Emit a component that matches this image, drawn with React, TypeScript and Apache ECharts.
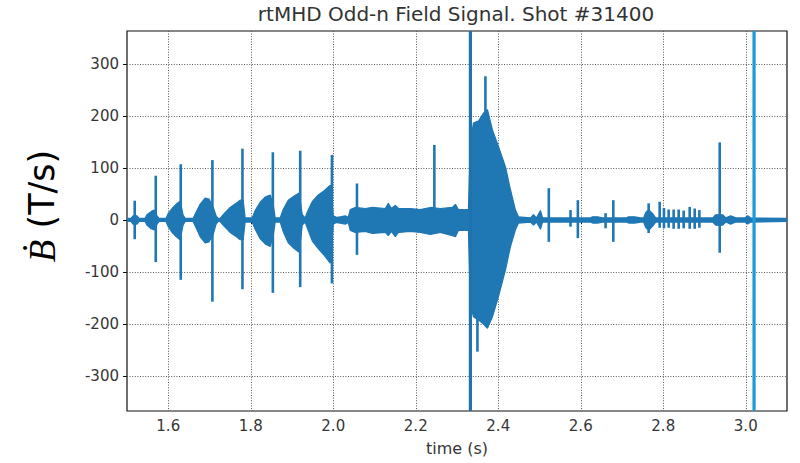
import React, { useEffect, useRef } from "react";
import * as echarts from "echarts";

// Axis ranges and tick labels
const xMin = 1.5;
const xMax = 3.1;
const yMin = -367;
const yMax = 363;
const xTicks = [1.6, 1.8, 2.0, 2.2, 2.4, 2.6, 2.8, 3.0];
const yTicks = [-300, -200, -100, 0, 100, 200, 300];

// Envelope of the oscillating signal (time, upper, lower)
const envT = [
  1.5, 1.5097, 1.5146, 1.5243, 1.5291, 1.5437, 1.5485, 1.5583, 1.5655, 1.5728, 1.5777,
  1.5947, 1.5995, 1.6092, 1.6189, 1.6286, 1.6359, 1.6408, 1.6602, 1.6675, 1.6772, 1.6893,
  1.699, 1.7087, 1.716, 1.7209, 1.7257, 1.7354, 1.75, 1.7646, 1.7743, 1.7816, 1.7864,
  1.8034, 1.8107, 1.8228, 1.835, 1.8471, 1.8544, 1.8592, 1.8714, 1.8786, 1.8908, 1.9053,
  1.9175, 1.9248, 1.932, 1.9369, 1.949, 1.9636, 1.9782, 1.9927, 2.0, 2.0073, 2.017,
  2.0291, 2.0364, 2.0413, 2.0534, 2.0777, 2.0947, 2.1262, 2.1335, 2.1408, 2.1505, 2.1578,
  2.1869, 2.2112, 2.2354, 2.2597, 2.2888, 2.2961, 2.3034, 2.3277, 2.3325, 2.3398, 2.3519,
  2.3641, 2.3738, 2.3859, 2.4005, 2.4175, 2.4296, 2.4417, 2.449, 2.4782, 2.4854, 2.4927,
  2.5024, 2.5073, 2.5388, 2.6238, 2.6286, 2.6408, 2.6529, 2.6602, 2.7112, 2.716, 2.7306,
  2.7451, 2.7524, 2.7573, 2.7646, 2.7743, 2.7816, 2.9199, 2.9272, 2.9442, 2.9515, 2.9636,
  2.9757, 2.9976, 3.0049, 3.0121, 3.1,
];
const envHi = [
  3, 3, 8, 8, 3, 3, 10, 16, 19, 8, 3,
  3, 12, 22, 30, 36, 10, 3, 3, 15, 30, 42,
  40, 25, 8, 3, 3, 12, 24, 32, 38, 38, 4,
  4, 18, 34, 44, 48, 30, 4, 4, 20, 38, 46,
  52, 10, 4, 15, 35, 48, 56, 67, 8, 5, 6,
  8, 5, 20, 24, 22, 24, 22, 32, 22, 28, 22,
  22, 20, 24, 22, 24, 30, 20, 20, 150, 186, 190,
  205, 212, 173, 141, 102, 58, 19, 6, 4, 10, 4,
  18, 4, 4, 4, 6, 6, 4, 4, 4, 6, 6,
  4, 4, 14, 20, 12, 4, 4, 10, 10, 4, 8,
  4, 4, 8, 4, 3,
];
const envLo = [
  -3, -3, -8, -8, -3, -3, -10, -17, -19, -8, -3,
  -3, -12, -24, -32, -38, -10, -3, -3, -15, -32, -44,
  -42, -28, -8, -3, -3, -12, -24, -32, -38, -38, -4,
  -4, -18, -36, -46, -51, -30, -4, -4, -22, -44, -55,
  -62, -10, -4, -15, -40, -55, -68, -83, -8, -5, -6,
  -8, -5, -20, -24, -22, -26, -24, -30, -22, -32, -24,
  -22, -24, -28, -24, -30, -32, -20, -20, -160, -186, -192,
  -200, -208, -186, -147, -96, -51, -19, -6, -4, -10, -4,
  -18, -4, -4, -4, -6, -6, -4, -4, -4, -6, -6,
  -4, -4, -14, -20, -12, -4, -4, -10, -10, -4, -8,
  -4, -4, -8, -4, -3,
];

// Isolated spikes (time, top, bottom)
const spikeT = [
  1.5187, 1.5697, 1.6303, 1.707, 1.7799, 1.8536, 1.9199, 1.9968, 2.0575, 2.2451,
  2.3495, 2.3689, 2.5226, 2.5752, 2.593, 2.6602, 2.6789, 2.7646, 2.7913, 2.8017,
  2.8131, 2.8252, 2.8374, 2.8495, 2.8641, 2.8762, 2.8876, 2.9369,
];
const spikeHi = [
  37, 85, 107, 115, 137, 130, 133, 125, 70, 144,
  190, 276, 61, 19, 38, 13, 38, 32, 35, 23,
  20, 20, 20, 18, 25, 22, 19, 149,
];
const spikeLo = [
  -37, -81, -115, -157, -133, -140, -129, -122, -67, -20,
  -253, -200, -42, -13, -35, -16, -42, -25, -15, -16,
  -15, -17, -17, -16, -17, -17, -15, -63,
];

// Saturated full-scale lines
const bigT = [2.3325, 3.0201];
const bigAmp = [1000, 1000];
const bigColor = ["#1f72ad", "#1c9ad8"];

const BLUE = "#1f77b4";

export default function App() {
  const ref = useRef<HTMLDivElement>(null);

  useEffect(() => {
    if (!ref.current) return;
    const chart = echarts.init(ref.current, null, { renderer: "svg" });

    const upper = envT.map((t, i) => [t, envHi[i]]);
    const lower = envT.map((t, i) => [t, envLo[i]]);
    const spikes = spikeT.map((t, i) => [t, spikeHi[i], spikeLo[i]]);
    const bigs = bigT.map((t, i) => [t, bigAmp[i], -bigAmp[i], i]);

    const tickFont = {
      color: "#363636",
      fontSize: 15,
      fontFamily: "DejaVu Sans",
    };
    const gridLine = { color: "#5a5a5a", type: [1, 1.6], width: 1 };

    chart.setOption({
      animation: false,
      grid: {
        left: 127,
        right: 13,
        top: 31,
        bottom: 52,
        show: true,
        borderColor: "#111",
        borderWidth: 1.2,
        backgroundColor: "#fff",
      },
      xAxis: {
        type: "value",
        min: xMin,
        max: xMax,
        splitNumber: 8,
        axisLine: { show: false },
        axisTick: {
          show: true,
          inside: false,
          length: 4,
          lineStyle: { color: "#111" },
          customValues: xTicks,
        },
        axisLabel: {
          ...tickFont,
          margin: 7,
          customValues: xTicks,
          formatter: (v: number) => v.toFixed(1),
        },
        splitLine: { show: true, lineStyle: gridLine },
      },
      yAxis: {
        type: "value",
        min: yMin,
        max: yMax,
        splitNumber: 7,
        axisLine: { show: false },
        axisTick: {
          show: true,
          inside: false,
          length: 4,
          lineStyle: { color: "#111" },
          customValues: yTicks,
        },
        axisLabel: {
          ...tickFont,
          margin: 8,
          customValues: yTicks,
          formatter: (v: number) => String(v),
        },
        splitLine: { show: true, lineStyle: gridLine },
      },
      graphic: [
        {
          type: "text",
          x: 456,
          y: 14,
          style: {
            text: "rtMHD Odd-n Field Signal. Shot #31400",
            fill: "#333",
            font: '20px "DejaVu Sans"',
            align: "center",
            verticalAlign: "middle",
          },
        },
        {
          type: "text",
          x: 457,
          y: 448,
          style: {
            text: "time (s)",
            fill: "#363636",
            font: '16px "DejaVu Sans"',
            align: "center",
            verticalAlign: "middle",
          },
        },
        {
          type: "text",
          x: 42,
          y: 206,
          rotation: Math.PI / 2,
          style: {
            text: "{b|Ḃ} (T/s)",
            fill: "#000",
            fontSize: 35,
            fontFamily: '"DejaVu Sans", sans-serif',
            align: "center",
            verticalAlign: "middle",
            rich: {
              b: {
                fontStyle: "italic",
                fontSize: 37,
                fontFamily: '"Liberation Serif", "DejaVu Serif", serif',
                fill: "#000",
              },
            },
          },
        },
      ],
      series: [
        {
          type: "line",
          data: upper,
          symbol: "none",
          lineStyle: { color: BLUE, width: 1.2 },
          areaStyle: { color: BLUE, opacity: 1, origin: 0 },
          silent: true,
          z: 2,
        },
        {
          type: "line",
          data: lower,
          symbol: "none",
          lineStyle: { color: BLUE, width: 1.2 },
          areaStyle: { color: BLUE, opacity: 1, origin: 0 },
          silent: true,
          z: 2,
        },
        {
          type: "custom",
          data: spikes,
          clip: true,
          silent: true,
          z: 3,
          renderItem: (params: any, api: any) => {
            const p1 = api.coord([api.value(0), api.value(1)]);
            const p2 = api.coord([api.value(0), api.value(2)]);
            return {
              type: "line",
              shape: { x1: p1[0], y1: p1[1], x2: p2[0], y2: p2[1] },
              style: { stroke: BLUE, lineWidth: 2.6 },
            };
          },
        },
        {
          type: "custom",
          data: bigs,
          clip: true,
          silent: true,
          z: 4,
          renderItem: (params: any, api: any) => {
            const p1 = api.coord([api.value(0), api.value(1)]);
            const p2 = api.coord([api.value(0), api.value(2)]);
            const idx = api.value(3);
            return {
              type: "line",
              shape: { x1: p1[0], y1: p1[1], x2: p2[0], y2: p2[1] },
              style: { stroke: bigColor[idx], lineWidth: 3.2 },
            };
          },
        },
      ],
    });

    return () => chart.dispose();
  }, []);

  return (
    <div
      ref={ref}
      style={{ position: "absolute", left: 0, top: 0, width: 800, height: 463 }}
    />
  );
}
